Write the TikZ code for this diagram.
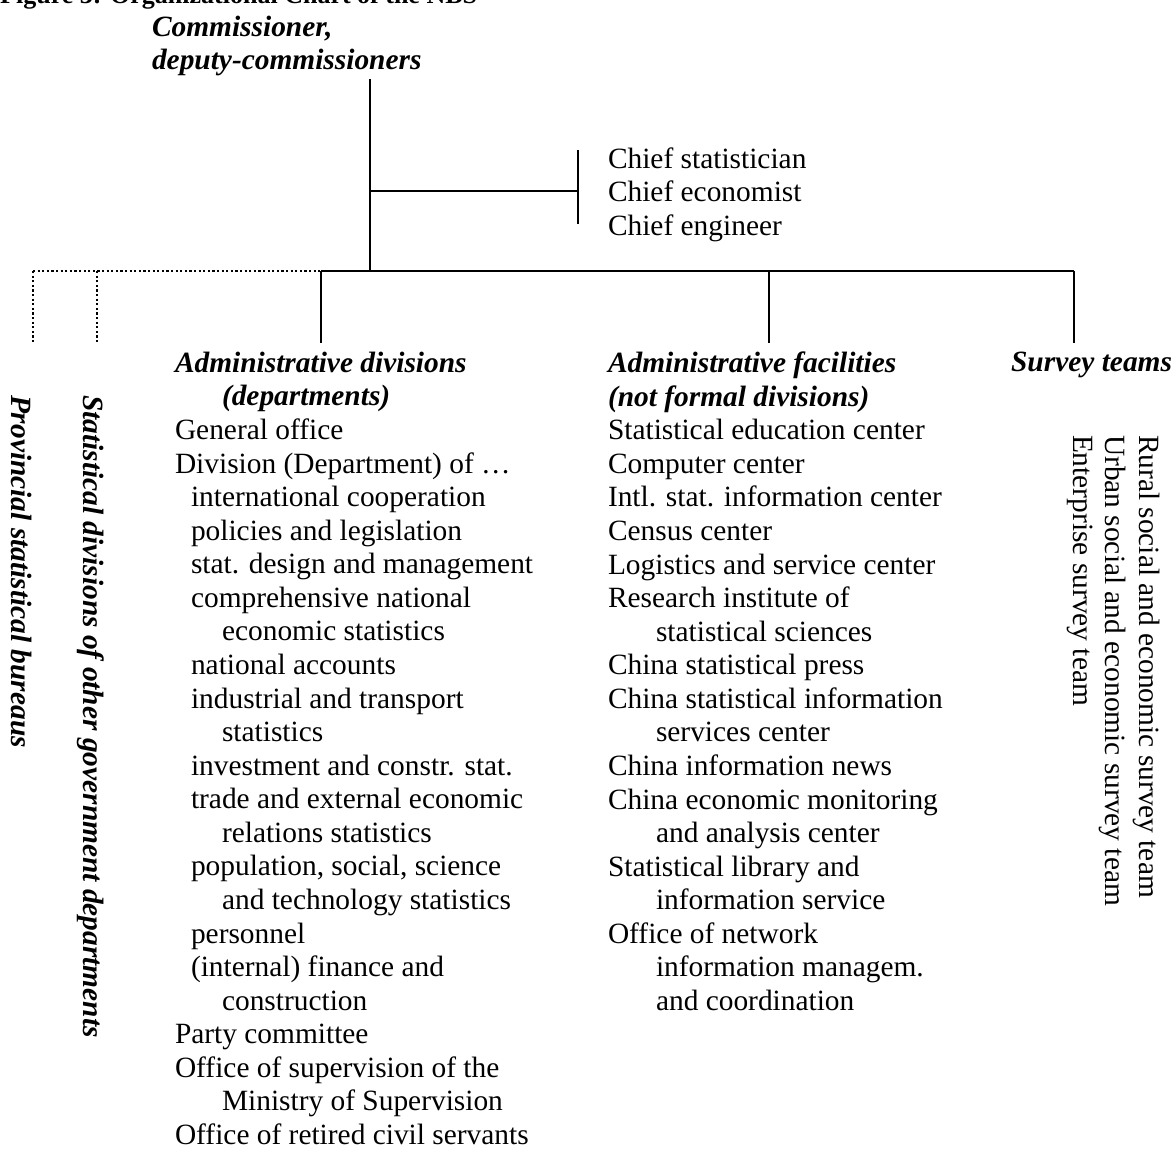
\documentclass[tikz,border=0pt]{standalone}
\usepackage{fontspec}
\setmainfont{Liberation Serif}
\tikzset{
  txt/.style={inner sep=0pt, outer sep=0pt, align=left, font=\fontsize{29.4}{33.57}\selectfont},
  bi/.style={txt, font=\fontsize{29.4}{33.57}\selectfont\bfseries\itshape},
  conn/.style={line width=1.8pt},
  dotconn/.style={line width=2.2pt, dash pattern=on 2.2pt off 2.4pt}
}
\begin{document}
\begin{tikzpicture}[x=1pt,y=-1pt]
\useasboundingbox (0,0) rectangle (1173,1151);
% title (cut at top edge, as in the reference)
\node[inner sep=0pt, anchor=base west, font=\fontsize{26}{30}\selectfont\bfseries] (title) at (0,4) {Figure 3: Organizational Chart of the NBS};
% commissioner
\node[bi, anchor=north west] (comm) at (152,16) {Commissioner,\\deputy-commissioners};
% chiefs
\node[txt, anchor=north west] (chief) at (608,147.5) {Chief statistician\\Chief economist\\Chief engineer};
% coordinates
\coordinate (ctop) at (370,79);
\coordinate (cj) at (370,191);
\coordinate (cbar) at (578,191);
\coordinate (cbart) at (578,150);
\coordinate (cbarb) at (578,224);
\coordinate (cbus) at (370,271);
\coordinate (bl) at (33,271);
\coordinate (bd) at (97,271);
\coordinate (ba) at (321,271);
\coordinate (bf) at (769,271);
\coordinate (bs) at (1074,271);
\coordinate (bl2) at (33,342);
\coordinate (bd2) at (97,342);
\coordinate (ba2) at (321,343);
\coordinate (bf2) at (769,343);
\coordinate (bs2) at (1074,343);
% connectors
\draw[conn] (ctop) -- (cbus);
\draw[conn] (cj) -- (cbar);
\draw[conn] (cbart) -- (cbarb);
\draw[conn] (ba) -- (bs);
\draw[dotconn] (bl) -- (ba);
\draw[dotconn] (bl) -- (bl2);
\draw[dotconn] (bd) -- (bd2);
\draw[conn] (ba) -- (ba2);
\draw[conn] (bf) -- (bf2);
\draw[conn] (bs) -- (bs2);
% rotated left
\node[bi, rotate=-90, anchor=west] (prov) at (22,395) {Provincial statistical bureaus};
\node[bi, rotate=-90, anchor=west] (other) at (91,395) {Statistical divisions of other government departments};
% admin divisions
\node[txt, anchor=north west] (adm) at (175,352) {\textbf{\textit{Administrative divisions}}\\
\hspace*{47pt}\textbf{\textit{(departments)}}\\
General office\\
Division (Department) of …\\
\hspace*{16pt}international cooperation\\
\hspace*{16pt}policies and legislation\\
\hspace*{16pt}stat. design and management\\
\hspace*{16pt}comprehensive national\\
\hspace*{47pt}economic statistics\\
\hspace*{16pt}national accounts\\
\hspace*{16pt}industrial and transport\\
\hspace*{47pt}statistics\\
\hspace*{16pt}investment and constr. stat.\\
\hspace*{16pt}trade and external economic\\
\hspace*{47pt}relations statistics\\
\hspace*{16pt}population, social, science\\
\hspace*{47pt}and technology statistics\\
\hspace*{16pt}personnel\\
\hspace*{16pt}(internal) finance and\\
\hspace*{47pt}construction\\
Party committee\\
Office of supervision of the\\
\hspace*{47pt}Ministry of Supervision\\
Office of retired civil servants};
% facilities
\node[txt, anchor=north west] (fac) at (608,352) {\textbf{\textit{Administrative facilities}}\\
\textbf{\textit{(not formal divisions)}}\\
Statistical education center\\
Computer center\\
Intl. stat. information center\\
Census center\\
Logistics and service center\\
Research institute of\\
\hspace*{48pt}statistical sciences\\
China statistical press\\
China statistical information\\
\hspace*{48pt}services center\\
China information news\\
China economic monitoring\\
\hspace*{48pt}and analysis center\\
Statistical library and\\
\hspace*{48pt}information service\\
Office of network\\
\hspace*{48pt}information managem.\\
\hspace*{48pt}and coordination};
% survey teams
\node[bi, anchor=north east] (sur) at (1172,352) {Survey teams};
\node[txt, rotate=-90, anchor=west] (rural) at (1147,435) {Rural social and economic survey team};
\node[txt, rotate=-90, anchor=west] (urban) at (1113,435) {Urban social and economic survey team};
\node[txt, rotate=-90, anchor=west] (ent) at (1080,435) {Enterprise survey team};
\end{tikzpicture}
\end{document}
